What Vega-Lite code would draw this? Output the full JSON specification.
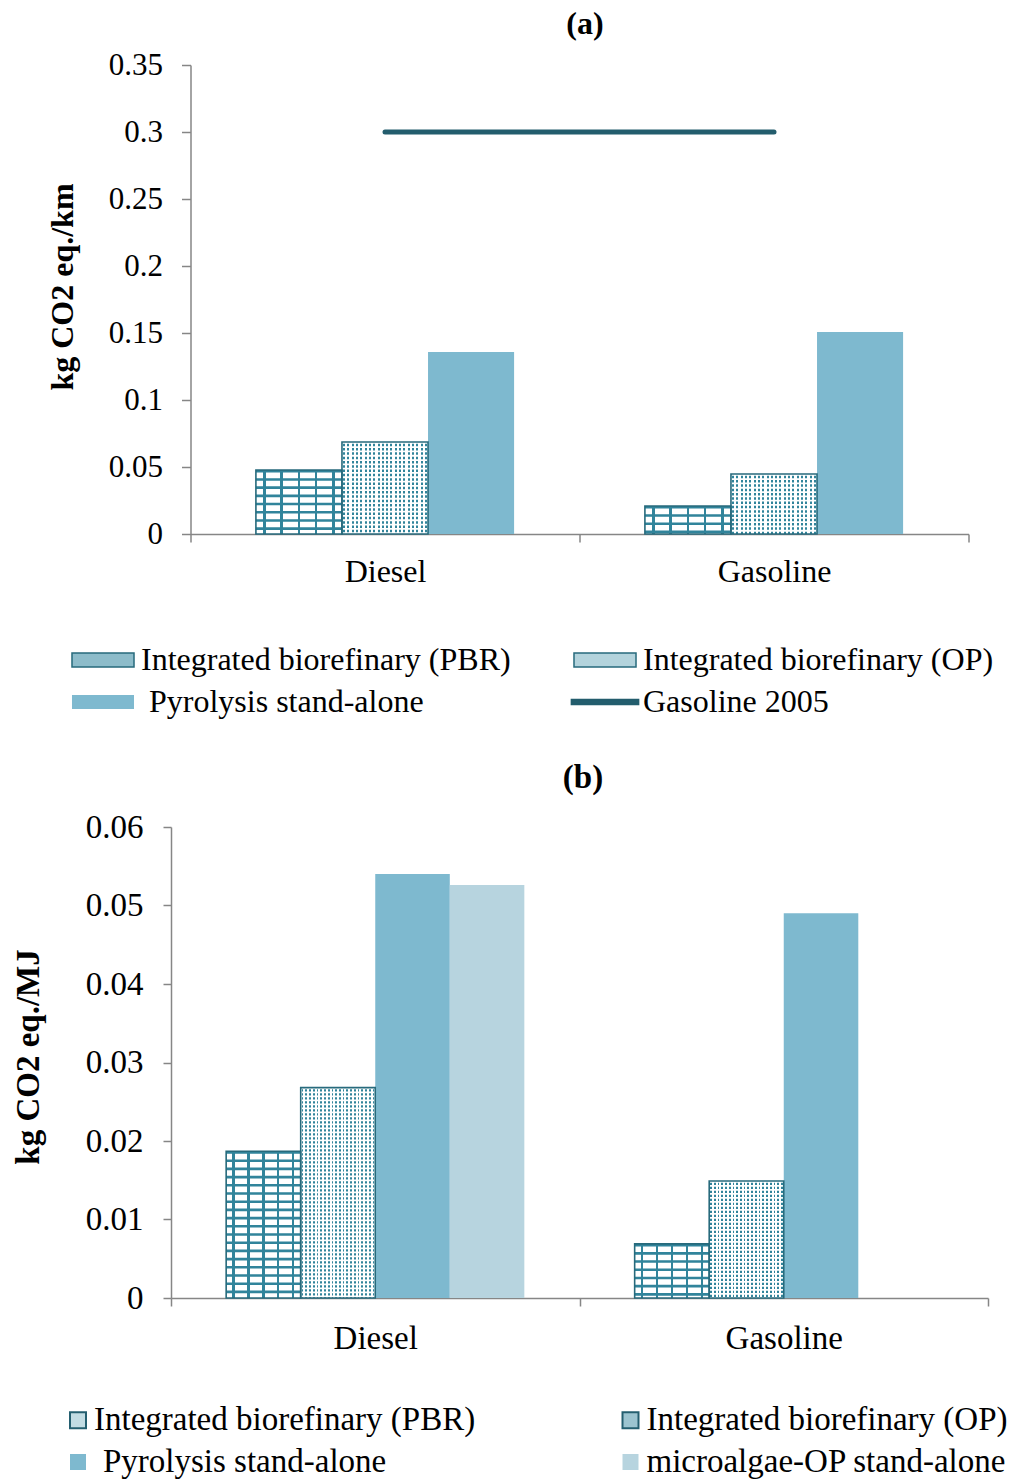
{
  "$schema": "https://vega.github.io/schema/vega-lite/v6.json",
  "background": "white",
  "padding": {"left": 11, "top": 8, "right": 5, "bottom": 0},
  "config": {"view": {"stroke": null}, "font": "Liberation Serif", "axis": {"grid": false}},
  "datasets": {
    "a": [
      {"fuel": "Diesel", "series": "Integrated biorefinary (PBR)", "value": 0.0478},
      {"fuel": "Diesel", "series": "Integrated biorefinary (OP)", "value": 0.0687},
      {"fuel": "Diesel", "series": "Pyrolysis stand-alone", "value": 0.1358},
      {"fuel": "Gasoline", "series": "Integrated biorefinary (PBR)", "value": 0.0209},
      {"fuel": "Gasoline", "series": "Integrated biorefinary (OP)", "value": 0.0448},
      {"fuel": "Gasoline", "series": "Pyrolysis stand-alone", "value": 0.1507},
      {"fuel": "Diesel", "series": "Gasoline 2005", "value": 0.3},
      {"fuel": "Gasoline", "series": "Gasoline 2005", "value": 0.3}
    ],
    "b": [
      {"fuel": "Diesel", "series": "Integrated biorefinary (PBR)", "value": 0.0187},
      {"fuel": "Diesel", "series": "Integrated biorefinary (OP)", "value": 0.0268},
      {"fuel": "Diesel", "series": "Pyrolysis stand-alone", "value": 0.054},
      {"fuel": "Diesel", "series": "microalgae-OP stand-alone", "value": 0.0526},
      {"fuel": "Gasoline", "series": "Integrated biorefinary (PBR)", "value": 0.0069},
      {"fuel": "Gasoline", "series": "Integrated biorefinary (OP)", "value": 0.0149},
      {"fuel": "Gasoline", "series": "Pyrolysis stand-alone", "value": 0.049}
    ]
  },
  "spacing": 293,
  "bounds": "flush",
  "center": true,
  "resolve": {"scale": {"color": "independent", "xOffset": "independent", "x": "independent", "y": "independent"}, "legend": {"color": "independent"}},
  "vconcat": [
    {
      "data": {"name": "a"},
      "width": 778,
      "height": 469,
      "title": {"text": "(a)", "font": "Liberation Serif", "fontSize": 32, "fontWeight": "bold", "color": "black", "frame": "group", "anchor": "middle", "dx": 5.5, "baseline": "alphabetic", "offset": -17},
      "encoding": {
        "x": {"field": "fuel", "type": "nominal", "sort": ["Diesel", "Gasoline"], "scale": {"paddingInner": 0, "paddingOuter": 0},
          "axis": {"title": null, "labelFont": "Liberation Serif", "labelFontSize": 32, "labelColor": "black", "labelPadding": 14, "labelAngle": 0, "tickSize": 8, "tickColor": "#868686", "tickWidth": 1.5, "domainColor": "#868686", "domainWidth": 1.5, "tickBand": "extent"}},
        "y": {"field": "value", "type": "quantitative", "scale": {"domain": [0, 0.35], "nice": false},
          "axis": {"title": "kg CO2 eq./km", "titleFont": "Liberation Serif", "titleFontSize": 32, "titleFontWeight": "bold", "titleColor": "black", "titleX": -128.5, "titleY": 221.5, "titleAngle": -90, "titleBaseline": "middle", "titleAlign": "center",
            "values": [0, 0.05, 0.1, 0.15, 0.2, 0.25, 0.3, 0.35], "format": "~g", "labelFont": "Liberation Serif", "labelFontSize": 31, "labelColor": "black", "labelPadding": 19, "labelFlush": false, "labelOverlap": false, "tickSize": 9, "tickColor": "#868686", "tickWidth": 1.5, "domainColor": "#868686", "domainWidth": 1.5}}
      },
      "layer": [
        {
          "transform": [{"filter": "datum.series !== 'Gasoline 2005'"}],
          "mark": {"type": "bar"},
          "encoding": {
            "xOffset": {"field": "series", "type": "nominal", "scale": {"domain": ["Integrated biorefinary (PBR)", "Integrated biorefinary (OP)", "Pyrolysis stand-alone"], "paddingInner": 0, "paddingOuter": 0.76}},
            "color": {"field": "series", "type": "nominal",
              "scale": {"domain": ["Integrated biorefinary (PBR)", "Pyrolysis stand-alone", "Integrated biorefinary (OP)", "Gasoline 2005"], "range": ["#8DBCCA", "#7EB9CF", "#B3D3DC", "#235D6D"]},
              "legend": {
                "orient": "none", "legendX": -118.5, "legendY": 579, "columns": 2, "title": null, "padding": 0,
                "symbolSize": 196, "symbolOffset": 15, "symbolStrokeWidth": 1.5, "symbolType": "M-4.43,-1H4.43V1H-4.43Z",
                "labelFont": "Liberation Serif", "labelFontSize": 32, "labelColor": "black", "labelLimit": 800, "labelOffset": 22, "labelBaseline": "middle",
                "columnPadding": 57, "rowPadding": 10,
                "encode": {
                  "symbols": {
                    "update": {
                      "shape": [{"test": "datum.value === 'Gasoline 2005'", "value": "M-4.8,-0.36H4.8V0.36H-4.8Z"}, {"value": "M-4.43,-1H4.43V1H-4.43Z"}],
                      "stroke": [
                        {"test": "datum.value === 'Gasoline 2005'", "value": "#235D6D"},
                        {"test": "datum.value === 'Pyrolysis stand-alone'", "value": "transparent"},
                        {"value": "#276A7C"}
                      ]
                    }
                  },
                  "labels": {
                    "update": {
                      "dx": [{"test": "datum.value === 'Pyrolysis stand-alone'", "value": 8}, {"value": 0}]
                    }
                  }
                }
              }
            }
          }
        },
        {
          "transform": [{"filter": "datum.series === 'Integrated biorefinary (PBR)'"}],
          "mark": {"type": "bar", "fill": {"gradient": "linear", "x1": 0, "y1": 0, "x2": 1, "y2": 0, "stops": [{"offset": 0, "color": "#ffffff"}, {"offset": 0.085, "color": "#ffffff"}, {"offset": 0.085, "color": "#31849B"}, {"offset": 0.115, "color": "#31849B"}, {"offset": 0.115, "color": "#ffffff"}, {"offset": 0.285, "color": "#ffffff"}, {"offset": 0.285, "color": "#31849B"}, {"offset": 0.315, "color": "#31849B"}, {"offset": 0.315, "color": "#ffffff"}, {"offset": 0.485, "color": "#ffffff"}, {"offset": 0.485, "color": "#31849B"}, {"offset": 0.515, "color": "#31849B"}, {"offset": 0.515, "color": "#ffffff"}, {"offset": 0.685, "color": "#ffffff"}, {"offset": 0.685, "color": "#31849B"}, {"offset": 0.715, "color": "#31849B"}, {"offset": 0.715, "color": "#ffffff"}, {"offset": 0.885, "color": "#ffffff"}, {"offset": 0.885, "color": "#31849B"}, {"offset": 0.915, "color": "#31849B"}, {"offset": 0.915, "color": "#ffffff"}, {"offset": 1, "color": "#ffffff"}]}},
          "encoding": {
            "xOffset": {"field": "series", "type": "nominal", "scale": {"domain": ["Integrated biorefinary (PBR)", "Integrated biorefinary (OP)", "Pyrolysis stand-alone"], "paddingInner": 0, "paddingOuter": 0.76}}
          }
        },
        {
          "transform": [{"filter": "datum.series === 'Integrated biorefinary (OP)'"}],
          "mark": {"type": "bar", "fill": {"gradient": "linear", "x1": 0, "y1": 0, "x2": 1, "y2": 0, "stops": [{"offset": 0, "color": "#ffffff"}, {"offset": 0.0133, "color": "#ffffff"}, {"offset": 0.0133, "color": "#31849B"}, {"offset": 0.0367, "color": "#31849B"}, {"offset": 0.0367, "color": "#ffffff"}, {"offset": 0.0633, "color": "#ffffff"}, {"offset": 0.0633, "color": "#31849B"}, {"offset": 0.0867, "color": "#31849B"}, {"offset": 0.0867, "color": "#ffffff"}, {"offset": 0.1133, "color": "#ffffff"}, {"offset": 0.1133, "color": "#31849B"}, {"offset": 0.1367, "color": "#31849B"}, {"offset": 0.1367, "color": "#ffffff"}, {"offset": 0.1633, "color": "#ffffff"}, {"offset": 0.1633, "color": "#31849B"}, {"offset": 0.1867, "color": "#31849B"}, {"offset": 0.1867, "color": "#ffffff"}, {"offset": 0.2133, "color": "#ffffff"}, {"offset": 0.2133, "color": "#31849B"}, {"offset": 0.2367, "color": "#31849B"}, {"offset": 0.2367, "color": "#ffffff"}, {"offset": 0.2633, "color": "#ffffff"}, {"offset": 0.2633, "color": "#31849B"}, {"offset": 0.2867, "color": "#31849B"}, {"offset": 0.2867, "color": "#ffffff"}, {"offset": 0.3133, "color": "#ffffff"}, {"offset": 0.3133, "color": "#31849B"}, {"offset": 0.3367, "color": "#31849B"}, {"offset": 0.3367, "color": "#ffffff"}, {"offset": 0.3633, "color": "#ffffff"}, {"offset": 0.3633, "color": "#31849B"}, {"offset": 0.3867, "color": "#31849B"}, {"offset": 0.3867, "color": "#ffffff"}, {"offset": 0.4133, "color": "#ffffff"}, {"offset": 0.4133, "color": "#31849B"}, {"offset": 0.4367, "color": "#31849B"}, {"offset": 0.4367, "color": "#ffffff"}, {"offset": 0.4633, "color": "#ffffff"}, {"offset": 0.4633, "color": "#31849B"}, {"offset": 0.4867, "color": "#31849B"}, {"offset": 0.4867, "color": "#ffffff"}, {"offset": 0.5133, "color": "#ffffff"}, {"offset": 0.5133, "color": "#31849B"}, {"offset": 0.5367, "color": "#31849B"}, {"offset": 0.5367, "color": "#ffffff"}, {"offset": 0.5633, "color": "#ffffff"}, {"offset": 0.5633, "color": "#31849B"}, {"offset": 0.5867, "color": "#31849B"}, {"offset": 0.5867, "color": "#ffffff"}, {"offset": 0.6133, "color": "#ffffff"}, {"offset": 0.6133, "color": "#31849B"}, {"offset": 0.6367, "color": "#31849B"}, {"offset": 0.6367, "color": "#ffffff"}, {"offset": 0.6633, "color": "#ffffff"}, {"offset": 0.6633, "color": "#31849B"}, {"offset": 0.6867, "color": "#31849B"}, {"offset": 0.6867, "color": "#ffffff"}, {"offset": 0.7133, "color": "#ffffff"}, {"offset": 0.7133, "color": "#31849B"}, {"offset": 0.7367, "color": "#31849B"}, {"offset": 0.7367, "color": "#ffffff"}, {"offset": 0.7633, "color": "#ffffff"}, {"offset": 0.7633, "color": "#31849B"}, {"offset": 0.7867, "color": "#31849B"}, {"offset": 0.7867, "color": "#ffffff"}, {"offset": 0.8133, "color": "#ffffff"}, {"offset": 0.8133, "color": "#31849B"}, {"offset": 0.8367, "color": "#31849B"}, {"offset": 0.8367, "color": "#ffffff"}, {"offset": 0.8633, "color": "#ffffff"}, {"offset": 0.8633, "color": "#31849B"}, {"offset": 0.8867, "color": "#31849B"}, {"offset": 0.8867, "color": "#ffffff"}, {"offset": 0.9133, "color": "#ffffff"}, {"offset": 0.9133, "color": "#31849B"}, {"offset": 0.9367, "color": "#31849B"}, {"offset": 0.9367, "color": "#ffffff"}, {"offset": 0.9633, "color": "#ffffff"}, {"offset": 0.9633, "color": "#31849B"}, {"offset": 0.9867, "color": "#31849B"}, {"offset": 0.9867, "color": "#ffffff"}, {"offset": 1, "color": "#ffffff"}]}},
          "encoding": {
            "xOffset": {"field": "series", "type": "nominal", "scale": {"domain": ["Integrated biorefinary (PBR)", "Integrated biorefinary (OP)", "Pyrolysis stand-alone"], "paddingInner": 0, "paddingOuter": 0.76}}
          }
        },
        {
          "transform": [{"filter": "datum.series === 'Integrated biorefinary (PBR)'"}],
          "mark": {"type": "rule", "stroke": "#31849B", "strokeWidth": 86, "strokeDash": [2.6, 5.6]},
          "encoding": {
            "xOffset": {"field": "series", "type": "nominal", "scale": {"domain": ["Integrated biorefinary (PBR)", "Integrated biorefinary (OP)", "Pyrolysis stand-alone"], "paddingInner": 0, "paddingOuter": 0.76}},
            "y2": {"datum": 0}
          }
        },
        {
          "transform": [{"filter": "datum.series === 'Integrated biorefinary (OP)'"}],
          "mark": {"type": "rule", "stroke": "#ffffff", "strokeWidth": 86, "strokeDash": [1.8, 2.5]},
          "encoding": {
            "xOffset": {"field": "series", "type": "nominal", "scale": {"domain": ["Integrated biorefinary (PBR)", "Integrated biorefinary (OP)", "Pyrolysis stand-alone"], "paddingInner": 0, "paddingOuter": 0.76}},
            "y2": {"datum": 0}
          }
        },
        {
          "transform": [{"filter": "datum.series === 'Integrated biorefinary (PBR)' || datum.series === 'Integrated biorefinary (OP)'"}],
          "mark": {"type": "bar", "fill": "transparent", "stroke": "#276A7C", "strokeWidth": 1.6},
          "encoding": {
            "xOffset": {"field": "series", "type": "nominal", "scale": {"domain": ["Integrated biorefinary (PBR)", "Integrated biorefinary (OP)", "Pyrolysis stand-alone"], "paddingInner": 0, "paddingOuter": 0.76}}
          }
        },
        {
          "transform": [{"filter": "datum.series === 'Gasoline 2005'"}],
          "mark": {"type": "line", "color": "#235D6D", "strokeWidth": 5, "strokeCap": "round"},
          "encoding": {}
        }
      ]
    },
    {
      "data": {"name": "b"},
      "width": 817,
      "height": 471,
      "title": {"text": "(b)", "font": "Liberation Serif", "fontSize": 33, "fontWeight": "bold", "color": "black", "frame": "group", "anchor": "middle", "dx": 3.5, "baseline": "alphabetic", "offset": -10},
      "encoding": {
        "x": {"field": "fuel", "type": "nominal", "sort": ["Diesel", "Gasoline"], "scale": {"paddingInner": 0, "paddingOuter": 0},
          "axis": {"title": null, "labelFont": "Liberation Serif", "labelFontSize": 33, "labelColor": "black", "labelPadding": 16, "labelAngle": 0, "tickSize": 8, "tickColor": "#868686", "tickWidth": 1.5, "domainColor": "#868686", "domainWidth": 1.5, "tickBand": "extent"}},
        "y": {"field": "value", "type": "quantitative", "scale": {"domain": [0, 0.06], "nice": false},
          "axis": {"title": "kg CO2 eq./MJ", "titleFont": "Liberation Serif", "titleFontSize": 33, "titleFontWeight": "bold", "titleColor": "black", "titleX": -143, "titleY": 229.5, "titleAngle": -90, "titleBaseline": "middle", "titleAlign": "center",
            "values": [0, 0.01, 0.02, 0.03, 0.04, 0.05, 0.06], "format": "~g", "labelFont": "Liberation Serif", "labelFontSize": 33, "labelColor": "black", "labelPadding": 20, "labelFlush": false, "labelOverlap": false, "tickSize": 8, "tickColor": "#868686", "tickWidth": 1.5, "domainColor": "#868686", "domainWidth": 1.5}}
      },
      "layer": [
        {
          "mark": {"type": "bar"},
          "encoding": {
            "xOffset": {"field": "series", "type": "nominal", "scale": {"domain": ["Integrated biorefinary (PBR)", "Integrated biorefinary (OP)", "Pyrolysis stand-alone", "microalgae-OP stand-alone"], "paddingInner": 0, "paddingOuter": 0.74}},
            "color": {"field": "series", "type": "nominal",
              "scale": {"domain": ["Integrated biorefinary (PBR)", "Pyrolysis stand-alone", "Integrated biorefinary (OP)", "microalgae-OP stand-alone"], "range": ["#C2DCE3", "#7EB9CF", "#9CC4D0", "#B7D4DF"]},
              "legend": {
                "orient": "none", "legendX": -101, "legendY": 576.5, "columns": 2, "title": null, "padding": 0,
                "symbolSize": 256, "symbolOffset": -8.5, "symbolStrokeWidth": 2, "symbolType": "square",
                "labelFont": "Liberation Serif", "labelFontSize": 33, "labelColor": "black", "labelLimit": 800, "labelOffset": -0.5, "labelBaseline": "middle",
                "columnPadding": 142.5, "rowPadding": 8,
                "encode": {
                  "symbols": {
                    "update": {
                      "stroke": [
                        {"test": "datum.value === 'Pyrolysis stand-alone' || datum.value === 'microalgae-OP stand-alone'", "value": "transparent"},
                        {"value": "#245F70"}
                      ]
                    }
                  },
                  "labels": {
                    "update": {
                      "dx": [{"test": "datum.value === 'Pyrolysis stand-alone'", "value": 9}, {"value": 0}]
                    }
                  }
                }
              }
            }
          }
        },
        {
          "transform": [{"filter": "datum.series === 'Integrated biorefinary (PBR)'"}],
          "mark": {"type": "bar", "fill": {"gradient": "linear", "x1": 0, "y1": 0, "x2": 1, "y2": 0, "stops": [{"offset": 0, "color": "#ffffff"}, {"offset": 0.085, "color": "#ffffff"}, {"offset": 0.085, "color": "#31849B"}, {"offset": 0.115, "color": "#31849B"}, {"offset": 0.115, "color": "#ffffff"}, {"offset": 0.285, "color": "#ffffff"}, {"offset": 0.285, "color": "#31849B"}, {"offset": 0.315, "color": "#31849B"}, {"offset": 0.315, "color": "#ffffff"}, {"offset": 0.485, "color": "#ffffff"}, {"offset": 0.485, "color": "#31849B"}, {"offset": 0.515, "color": "#31849B"}, {"offset": 0.515, "color": "#ffffff"}, {"offset": 0.685, "color": "#ffffff"}, {"offset": 0.685, "color": "#31849B"}, {"offset": 0.715, "color": "#31849B"}, {"offset": 0.715, "color": "#ffffff"}, {"offset": 0.885, "color": "#ffffff"}, {"offset": 0.885, "color": "#31849B"}, {"offset": 0.915, "color": "#31849B"}, {"offset": 0.915, "color": "#ffffff"}, {"offset": 1, "color": "#ffffff"}]}},
          "encoding": {
            "xOffset": {"field": "series", "type": "nominal", "scale": {"domain": ["Integrated biorefinary (PBR)", "Integrated biorefinary (OP)", "Pyrolysis stand-alone", "microalgae-OP stand-alone"], "paddingInner": 0, "paddingOuter": 0.74}}
          }
        },
        {
          "transform": [{"filter": "datum.series === 'Integrated biorefinary (OP)'"}],
          "mark": {"type": "bar", "fill": {"gradient": "linear", "x1": 0, "y1": 0, "x2": 1, "y2": 0, "stops": [{"offset": 0, "color": "#ffffff"}, {"offset": 0.0133, "color": "#ffffff"}, {"offset": 0.0133, "color": "#31849B"}, {"offset": 0.0367, "color": "#31849B"}, {"offset": 0.0367, "color": "#ffffff"}, {"offset": 0.0633, "color": "#ffffff"}, {"offset": 0.0633, "color": "#31849B"}, {"offset": 0.0867, "color": "#31849B"}, {"offset": 0.0867, "color": "#ffffff"}, {"offset": 0.1133, "color": "#ffffff"}, {"offset": 0.1133, "color": "#31849B"}, {"offset": 0.1367, "color": "#31849B"}, {"offset": 0.1367, "color": "#ffffff"}, {"offset": 0.1633, "color": "#ffffff"}, {"offset": 0.1633, "color": "#31849B"}, {"offset": 0.1867, "color": "#31849B"}, {"offset": 0.1867, "color": "#ffffff"}, {"offset": 0.2133, "color": "#ffffff"}, {"offset": 0.2133, "color": "#31849B"}, {"offset": 0.2367, "color": "#31849B"}, {"offset": 0.2367, "color": "#ffffff"}, {"offset": 0.2633, "color": "#ffffff"}, {"offset": 0.2633, "color": "#31849B"}, {"offset": 0.2867, "color": "#31849B"}, {"offset": 0.2867, "color": "#ffffff"}, {"offset": 0.3133, "color": "#ffffff"}, {"offset": 0.3133, "color": "#31849B"}, {"offset": 0.3367, "color": "#31849B"}, {"offset": 0.3367, "color": "#ffffff"}, {"offset": 0.3633, "color": "#ffffff"}, {"offset": 0.3633, "color": "#31849B"}, {"offset": 0.3867, "color": "#31849B"}, {"offset": 0.3867, "color": "#ffffff"}, {"offset": 0.4133, "color": "#ffffff"}, {"offset": 0.4133, "color": "#31849B"}, {"offset": 0.4367, "color": "#31849B"}, {"offset": 0.4367, "color": "#ffffff"}, {"offset": 0.4633, "color": "#ffffff"}, {"offset": 0.4633, "color": "#31849B"}, {"offset": 0.4867, "color": "#31849B"}, {"offset": 0.4867, "color": "#ffffff"}, {"offset": 0.5133, "color": "#ffffff"}, {"offset": 0.5133, "color": "#31849B"}, {"offset": 0.5367, "color": "#31849B"}, {"offset": 0.5367, "color": "#ffffff"}, {"offset": 0.5633, "color": "#ffffff"}, {"offset": 0.5633, "color": "#31849B"}, {"offset": 0.5867, "color": "#31849B"}, {"offset": 0.5867, "color": "#ffffff"}, {"offset": 0.6133, "color": "#ffffff"}, {"offset": 0.6133, "color": "#31849B"}, {"offset": 0.6367, "color": "#31849B"}, {"offset": 0.6367, "color": "#ffffff"}, {"offset": 0.6633, "color": "#ffffff"}, {"offset": 0.6633, "color": "#31849B"}, {"offset": 0.6867, "color": "#31849B"}, {"offset": 0.6867, "color": "#ffffff"}, {"offset": 0.7133, "color": "#ffffff"}, {"offset": 0.7133, "color": "#31849B"}, {"offset": 0.7367, "color": "#31849B"}, {"offset": 0.7367, "color": "#ffffff"}, {"offset": 0.7633, "color": "#ffffff"}, {"offset": 0.7633, "color": "#31849B"}, {"offset": 0.7867, "color": "#31849B"}, {"offset": 0.7867, "color": "#ffffff"}, {"offset": 0.8133, "color": "#ffffff"}, {"offset": 0.8133, "color": "#31849B"}, {"offset": 0.8367, "color": "#31849B"}, {"offset": 0.8367, "color": "#ffffff"}, {"offset": 0.8633, "color": "#ffffff"}, {"offset": 0.8633, "color": "#31849B"}, {"offset": 0.8867, "color": "#31849B"}, {"offset": 0.8867, "color": "#ffffff"}, {"offset": 0.9133, "color": "#ffffff"}, {"offset": 0.9133, "color": "#31849B"}, {"offset": 0.9367, "color": "#31849B"}, {"offset": 0.9367, "color": "#ffffff"}, {"offset": 0.9633, "color": "#ffffff"}, {"offset": 0.9633, "color": "#31849B"}, {"offset": 0.9867, "color": "#31849B"}, {"offset": 0.9867, "color": "#ffffff"}, {"offset": 1, "color": "#ffffff"}]}},
          "encoding": {
            "xOffset": {"field": "series", "type": "nominal", "scale": {"domain": ["Integrated biorefinary (PBR)", "Integrated biorefinary (OP)", "Pyrolysis stand-alone", "microalgae-OP stand-alone"], "paddingInner": 0, "paddingOuter": 0.74}}
          }
        },
        {
          "transform": [{"filter": "datum.series === 'Integrated biorefinary (PBR)'"}],
          "mark": {"type": "rule", "stroke": "#31849B", "strokeWidth": 74.5, "strokeDash": [2.6, 5.6]},
          "encoding": {
            "xOffset": {"field": "series", "type": "nominal", "scale": {"domain": ["Integrated biorefinary (PBR)", "Integrated biorefinary (OP)", "Pyrolysis stand-alone", "microalgae-OP stand-alone"], "paddingInner": 0, "paddingOuter": 0.74}},
            "y2": {"datum": 0}
          }
        },
        {
          "transform": [{"filter": "datum.series === 'Integrated biorefinary (OP)'"}],
          "mark": {"type": "rule", "stroke": "#ffffff", "strokeWidth": 74.5, "strokeDash": [1.7, 2.3]},
          "encoding": {
            "xOffset": {"field": "series", "type": "nominal", "scale": {"domain": ["Integrated biorefinary (PBR)", "Integrated biorefinary (OP)", "Pyrolysis stand-alone", "microalgae-OP stand-alone"], "paddingInner": 0, "paddingOuter": 0.74}},
            "y2": {"datum": 0}
          }
        },
        {
          "transform": [{"filter": "datum.series === 'Integrated biorefinary (PBR)' || datum.series === 'Integrated biorefinary (OP)'"}],
          "mark": {"type": "bar", "fill": "transparent", "stroke": "#276A7C", "strokeWidth": 1.6},
          "encoding": {
            "xOffset": {"field": "series", "type": "nominal", "scale": {"domain": ["Integrated biorefinary (PBR)", "Integrated biorefinary (OP)", "Pyrolysis stand-alone", "microalgae-OP stand-alone"], "paddingInner": 0, "paddingOuter": 0.74}}
          }
        }
      ]
    }
  ]
}
